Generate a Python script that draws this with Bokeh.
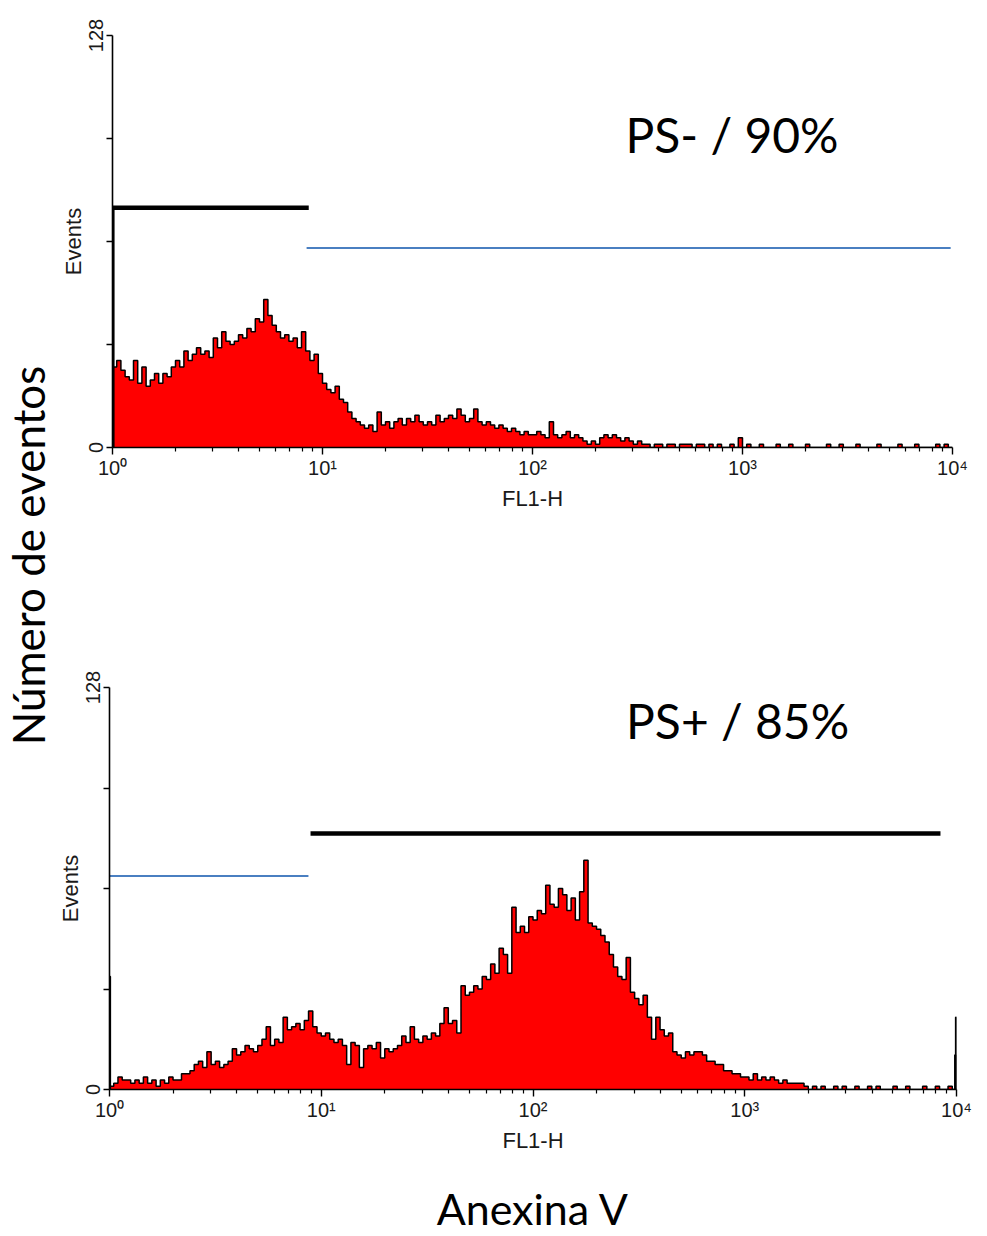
import numpy as np
from math import pi
from bokeh.plotting import figure
from bokeh.models import Range1d, FixedTicker, Label, LogAxis
from bokeh.layouts import row, column
from bokeh.embed import file_html
from bokeh.resources import INLINE

# ---------------- data ----------------
BINS_PER_DECADE = 50
DECADES = 4
CHANNELS_PER_DECADE = 256

# PS- sample histogram (50 bins per decade, 10^0 .. 10^4)
ps_neg_counts = [
    25, 27, 24, 22, 21, 27, 20, 25, 19, 21, 23, 20, 23, 22, 25, 27, 25, 30, 27, 29,
    31, 29, 30, 28, 34, 31, 36, 33, 32, 33, 35, 34, 37, 36, 40, 39, 46, 41, 38, 36,
    34, 35, 33, 34, 31, 36, 30, 27, 29, 23,
    20, 18, 17, 19, 15, 14, 11, 9, 8, 7, 6, 7, 5, 11, 7, 8, 6, 8, 9, 7,
    9, 8, 10, 8, 7, 8, 7, 10, 8, 9, 10, 9, 12, 10, 8, 9, 12, 8, 7, 8,
    7, 6, 7, 6, 5, 6, 5, 4, 5, 4,
    4, 5, 4, 3, 8, 4, 3, 4, 5, 3, 4, 3, 2, 1, 2, 1, 3, 4, 3, 4,
    3, 2, 3, 2, 1, 2, 1, 1, 0, 1, 1, 0, 1, 1, 0, 1, 1, 1, 0, 1,
    1, 0, 1, 0, 1, 0, 0, 1, 0, 3,
    0, 1, 0, 0, 1, 0, 0, 0, 1, 0, 0, 1, 0, 0, 0, 1, 0, 0, 0, 0,
    1, 0, 0, 1, 0, 0, 0, 1, 0, 0, 0, 0, 1, 0, 0, 0, 0, 1, 0, 0,
    0, 1, 0, 0, 0, 0, 1, 0, 1, 0,
]

# PS+ sample histogram
ps_pos_counts = [
    1, 2, 4, 3, 3, 2, 3, 2, 4, 2, 3, 1, 3, 2, 4, 3, 3, 5, 5, 6,
    8, 9, 7, 12, 8, 9, 7, 8, 9, 13, 11, 12, 14, 13, 12, 14, 16, 20, 14, 16,
    15, 23, 19, 20, 21, 19, 22, 25, 20, 18,
    17, 18, 16, 15, 16, 14, 8, 15, 14, 7, 13, 14, 13, 15, 10, 13, 12, 13, 14, 17,
    15, 20, 16, 15, 17, 16, 18, 17, 21, 26, 21, 22, 18, 33, 30, 31, 33, 32, 36, 35,
    40, 37, 45, 43, 37, 58, 50, 52, 50, 55,
    54, 57, 56, 65, 59, 58, 64, 62, 57, 61, 54, 63, 73, 53, 52, 51, 49, 47, 43, 39,
    36, 35, 42, 31, 29, 27, 30, 23, 16, 23, 19, 17, 18, 12, 11, 10, 12, 11, 12, 12,
    11, 9, 9, 8, 8, 6, 6, 5, 5, 4,
    4, 3, 5, 3, 4, 3, 4, 3, 2, 3, 2, 2, 2, 2, 1,
    0, 1, 0, 1, 0, 0, 1, 0, 1, 0, 0, 1, 0, 0, 1, 0, 1, 0, 0, 0,
    1, 0, 0, 1, 0, 0, 0, 1, 0, 0, 1, 0, 0, 1, 0,
]

# pile-up in the first / last acquisition channels (1024 channels)
ps_neg_edge_channels = [0]
ps_neg_edge_counts = [74]
ps_pos_edge_channels = [0, 1022, 1023]
ps_pos_edge_counts = [36, 11, 23]

# region markers (start, end, level)
ps_neg_marker_start = [1.0, 8.4]
ps_neg_marker_end = [8.6, 9800]
ps_neg_marker_level = [74.5, 62]
ps_pos_marker_start = [1.0, 8.9]
ps_pos_marker_end = [8.7, 8400]
ps_pos_marker_level = [68, 81.5]

x_tick_values = [1, 10, 100, 1000, 10000]
x_tick_labels = ["10\u2070", "10\u00b9", "10\u00b2", "10\u00b3", "10\u2074"]
y_tick_values = [0, 32, 64, 96, 128]
y_tick_labels = ["0", "", "", "", "128"]

titles = ["PS- / 90%", "PS+ / 85%"]

# ---------------- styling ----------------
RED = "#ff0000"
BLUE = "#4a7fc1"
BIG_FONT = "Lato"
AX_FONT = "Liberation Sans"


def panel(counts, edge_ch, edge_ct, edge_w, m_start, m_end, m_level, m_colors, m_widths,
          width, height, bl, br, bt, bb, title, tx, ty):
    p = figure(width=width, height=height, x_axis_type="log",
               x_range=Range1d(1, 10 ** DECADES), y_range=Range1d(0, 128),
               output_backend="svg", toolbar_location=None,
               min_border_left=bl, min_border_right=br,
               min_border_top=bt, min_border_bottom=bb)
    p.outline_line_color = None
    p.grid.visible = False
    p.background_fill_color = "white"

    c = np.asarray(counts, dtype=float)
    edges = 10 ** (np.arange(len(c) + 1) / BINS_PER_DECADE)
    xs = np.repeat(edges, 2)[1:-1]
    ys = np.repeat(c, 2)
    p.patch(np.concatenate([[edges[0]], xs, [edges[-1]]]),
            np.concatenate([[0.0], ys, [0.0]]),
            fill_color=RED, line_color=None)
    p.line(xs, ys, line_color="black", line_width=1.5)

    ch = np.asarray(edge_ch, dtype=float)
    p.quad(left=10 ** (ch / CHANNELS_PER_DECADE), right=10 ** ((ch + 1) / CHANNELS_PER_DECADE),
           bottom=0, top=edge_ct, fill_color="black", line_color="black", line_width=edge_w)

    p.segment(x0=m_start, x1=m_end, y0=m_level, y1=m_level,
              line_color=m_colors, line_width=m_widths)

    xa = p.xaxis[0]
    xa.ticker = FixedTicker(ticks=x_tick_values,
                            minor_ticks=[m * 10 ** e for e in range(DECADES) for m in range(2, 10)])
    xa.major_label_overrides = {v: l for v, l in zip(x_tick_values, x_tick_labels)}
    xa.axis_label = "FL1-H"
    xa.major_tick_out = 7
    xa.major_tick_in = 0
    xa.minor_tick_out = 4
    xa.minor_tick_in = 0
    xa.major_label_standoff = 2
    xa.axis_label_standoff = 4

    ya = p.yaxis[0]
    ya.ticker = FixedTicker(ticks=y_tick_values, minor_ticks=[])
    ya.major_label_overrides = {v: l for v, l in zip(y_tick_values, y_tick_labels)}
    ya.major_label_orientation = "vertical"
    ya.axis_label = "Events"
    ya.major_tick_out = 6
    ya.major_tick_in = 0
    ya.major_label_standoff = 4
    ya.axis_label_standoff = 0

    for a in (xa, ya):
        a.axis_line_color = "black"
        a.axis_line_width = 1.6
        a.major_tick_line_color = "black"
        a.major_tick_line_width = 1.4
        a.minor_tick_line_width = 1.2
        a.major_label_text_font = AX_FONT
        a.major_label_text_font_size = "20px"
        a.major_label_text_color = "#1a1a1a"
        a.axis_label_text_font = AX_FONT
        a.axis_label_text_font_size = "22px"
        a.axis_label_text_font_style = "normal"
        a.axis_label_text_color = "#1a1a1a"
    xa.minor_tick_line_color = "black"
    ya.minor_tick_line_color = None

    p.add_layout(Label(x=tx, y=ty, text=title, text_font=BIG_FONT, text_font_size="48px",
                       text_color="black", text_align="left", text_baseline="alphabetic"))
    return p


top = panel(ps_neg_counts, ps_neg_edge_channels, ps_neg_edge_counts, 2.5,
            ps_neg_marker_start, ps_neg_marker_end, ps_neg_marker_level,
            ["black", BLUE], [4.5, 2.0],
            933, 530, 58, 35, 35, 83, titles[0], 277, 97.2)

bot = panel(ps_pos_counts, ps_pos_edge_channels, ps_pos_edge_counts, 1.6,
            ps_pos_marker_start, ps_pos_marker_end, ps_pos_marker_level,
            [BLUE, "black"], [2.0, 4.5],
            933, 706, 54, 31, 157, 147, titles[1], 275, 117.4)

# shared quantity label below the lower panel
quantity_axis = LogAxis(ticker=FixedTicker(ticks=[]), axis_label="Anexina V",
                        axis_line_color=None, major_tick_line_color=None,
                        minor_tick_line_color=None, major_tick_out=0, minor_tick_out=0,
                        major_label_text_font_size="1px", major_label_standoff=0,
                        axis_label_standoff=27, axis_label_text_font=BIG_FONT,
                        axis_label_text_font_size="43px", axis_label_text_font_style="normal",
                        axis_label_text_color="black")
bot.add_layout(quantity_axis, "below")

left = figure(width=54, height=1236, x_range=Range1d(0, 54), y_range=Range1d(0, 1236),
              min_border=0, output_backend="svg", toolbar_location=None,
              x_axis_location=None, y_axis_location=None)
left.outline_line_color = None
left.grid.visible = False
left.add_layout(Label(x=27.5, y=681, text="Número de eventos", angle=pi / 2,
                      text_font=BIG_FONT, text_font_size="44px", text_color="black",
                      text_align="center", text_baseline="middle"))

layout = row(left, column(top, column(bot)))

open("out.html", "w").write(file_html(layout, INLINE))
